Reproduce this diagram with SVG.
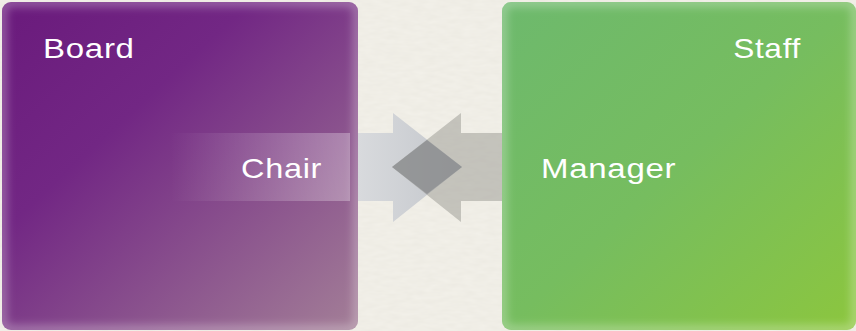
<svg xmlns="http://www.w3.org/2000/svg" width="856" height="331" viewBox="0 0 856 331">
<style>
.lbl{font-family:"Liberation Sans",Arial,sans-serif;font-size:28px;fill:#ffffff;letter-spacing:0.6px}
</style>
<defs>
<filter id="tex" x="0" y="0" width="100%" height="100%">
<feTurbulence type="fractalNoise" baseFrequency="0.08 0.25" numOctaves="2" seed="3" result="n"/>
<feColorMatrix in="n" type="matrix" values="0 0 0 0 0.5  0 0 0 0 0.48  0 0 0 0 0.4  0 0 0 0.12 0"/>
</filter>
<linearGradient id="gBoard" x1="0" y1="0" x2="1" y2="1">
<stop offset="0" stop-color="#6a1a7c"/>
<stop offset="0.35" stop-color="#722784"/>
<stop offset="1" stop-color="#a37f97"/>
</linearGradient>
<linearGradient id="gStaff" x1="0" y1="0" x2="1" y2="1">
<stop offset="0" stop-color="#6db96d"/>
<stop offset="0.5" stop-color="#76bd5f"/>
<stop offset="1" stop-color="#8cc63e"/>
</linearGradient>
<linearGradient id="gChair" x1="0" y1="0" x2="1" y2="0">
<stop offset="0" stop-color="#ffffff" stop-opacity="0"/>
<stop offset="0.4" stop-color="#ffffff" stop-opacity="0.12"/>
<stop offset="1" stop-color="#ffffff" stop-opacity="0.3"/>
</linearGradient>
<linearGradient id="gArR" x1="0" y1="0" x2="1" y2="0">
<stop offset="0" stop-color="#d8dadd"/>
<stop offset="1" stop-color="#c3c6cb"/>
</linearGradient>
<filter id="edge" x="-5%" y="-5%" width="110%" height="110%">
<feGaussianBlur stdDeviation="5"/>
</filter>
<clipPath id="cB"><rect x="2" y="2" width="356" height="328" rx="9"/></clipPath>
<clipPath id="cS"><rect x="502" y="2" width="354" height="328" rx="9"/></clipPath>
</defs>
<rect width="856" height="331" fill="#f3f1ea"/>
<rect width="856" height="331" filter="url(#tex)"/>
<g id="board">
<rect x="2" y="2" width="356" height="328" rx="9" fill="url(#gBoard)"/>
<g clip-path="url(#cB)"><rect x="2" y="2" width="356" height="328" rx="9" fill="none" stroke="#ffffff" stroke-opacity="0.35" stroke-width="8" filter="url(#edge)"/></g>
<text class="lbl" transform="translate(43,58) scale(1.18,1)">Board</text>
</g>
<g id="staff">
<rect x="502" y="2" width="354" height="328" rx="9" fill="url(#gStaff)"/>
<g clip-path="url(#cS)"><rect x="502" y="2" width="354" height="328" rx="9" fill="none" stroke="#ffffff" stroke-opacity="0.35" stroke-width="8" filter="url(#edge)"/></g>
<text class="lbl" transform="translate(801,58) scale(1.13,1)" text-anchor="end">Staff</text>
</g>
<g id="chair">
<rect x="170" y="133" width="180" height="68" fill="url(#gChair)"/>
<text class="lbl" transform="translate(241,178) scale(1.16,1)">Chair</text>
</g>
<g id="manager">
<text class="lbl" transform="translate(541,178) scale(1.18,1)">Manager</text>
</g>
<g id="connectors">
<polygon points="358,133 393,133 393,113 462,167 393,222 393,201 358,201" fill="url(#gArR)"/>
<polygon points="502,133 461,133 461,113 392,167 461,222 461,201 502,201" fill="#8e8e88" fill-opacity="0.45"/>
<polygon points="427,140 462,167 427,194 392,167" fill="#7d8084" fill-opacity="0.55"/>
</g>
</svg>
